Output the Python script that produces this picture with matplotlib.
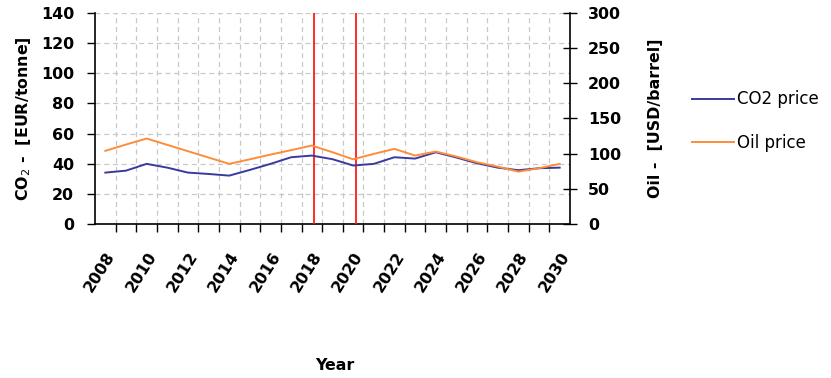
import matplotlib
matplotlib.use("Agg")
import matplotlib.pyplot as plt
import matplotlib.transforms as mtransforms
from matplotlib.ticker import MultipleLocator, FixedLocator

years = list(range(2008, 2031))
co2_price = [34.1, 35.4, 39.9, 37.4, 34.1, 33.2, 32.1, 35.9, 39.9, 44.3, 45.4, 43.0,
             38.8, 39.9, 44.3, 43.4, 47.6, 44.1, 40.3, 37.4, 35.7, 37.0, 37.4]
oil_price = [104, 113, 121.5, 112.5, 103.5, 94.5, 85.5, 92, 98.7, 105, 111.6, 102,
             92, 99.7, 106.8, 97.3, 103, 95.9, 87.8, 81.6, 74.5, 79.3, 85.4]
year_labels = [str(y) for y in range(2008, 2031, 2)]
marker_years = [2018.1, 2020.15]

fig = plt.figure(figsize=(8.31, 3.78), dpi=100)
ax = fig.add_axes([95/831, 1-224/378, 475/831, 211/378])
ax2 = ax.twinx()

# grid from left axis
ax.set_xlim(years[0]-0.5, years[-1]+0.5)
ax.set_ylim(0, 140)
ax.yaxis.set_major_locator(MultipleLocator(20))
ax.xaxis.set_major_locator(FixedLocator(list(range(2008, 2031, 2))))
ax.set_xticklabels(year_labels, rotation=58, ha='right', va='top',
                   rotation_mode='anchor', fontsize=11.4, fontweight='bold')
shift = mtransforms.ScaledTranslation(-12/100, 0, fig.dpi_scale_trans)
for t in ax.get_xticklabels():
    t.set_transform(t.get_transform() + shift)
ax.xaxis.set_minor_locator(FixedLocator([y+0.5 for y in years[:-1]]))
ax.tick_params(axis='x', which='major', length=0, pad=18)
ax.tick_params(axis='x', which='minor', length=6, width=1, direction='out')
ax.tick_params(axis='y', length=6, width=1, pad=9, labelsize=11.4)
for t in ax.get_yticklabels():
    t.set_fontweight('bold')
ax.grid(True, which='minor', axis='x', color='#c8c8c8', linestyle=(0, (4, 3)), lw=0.9)
ax.grid(True, which='major', axis='y', color='#c8c8c8', linestyle=(0, (4, 3)), lw=0.9)
ax.set_axisbelow(True)

for s in ['top', 'right']:
    ax.spines[s].set_visible(False)
ax2.spines['top'].set_visible(False)
ax2.spines['left'].set_visible(False)
ax2.spines['bottom'].set_visible(False)
for s in ['left', 'bottom']:
    ax.spines[s].set_linewidth(1.2)
ax2.spines['right'].set_linewidth(1.2)

ax2.set_ylim(0, 300)
ax2.yaxis.set_major_locator(MultipleLocator(50))
ax2.tick_params(axis='y', direction='inout', length=10, width=1, pad=8, labelsize=11.4)
for t in ax2.get_yticklabels():
    t.set_fontweight('bold')

for xv in marker_years:
    ax.axvline(xv, color='#ff1a1a', lw=1.3, zorder=3)

l1, = ax.plot(years, co2_price, color='#3a3a9e', lw=1.4, label='CO2 price', zorder=4)
l2, = ax2.plot(years, oil_price, color='#ff8c3a', lw=1.4, label='Oil price', zorder=4)

ax.set_ylabel('CO$_2$ -  [EUR/tonne]', fontsize=11.4, fontweight='bold', labelpad=6)
ax2.set_ylabel('Oil -  [USD/barrel]', fontsize=11.4, fontweight='bold', labelpad=19)
fig.text(335/831, 1-365/378, 'Year', ha='center', va='center',
         fontsize=11.4, fontweight='bold')

fig.legend(handles=[l1, l2], loc='center left', bbox_to_anchor=(677/831, 1-121/378),
           frameon=False, fontsize=12, handlelength=2.5, handletextpad=0.2,
           labelspacing=1.5)

fig.savefig('out.png', dpi=100)
